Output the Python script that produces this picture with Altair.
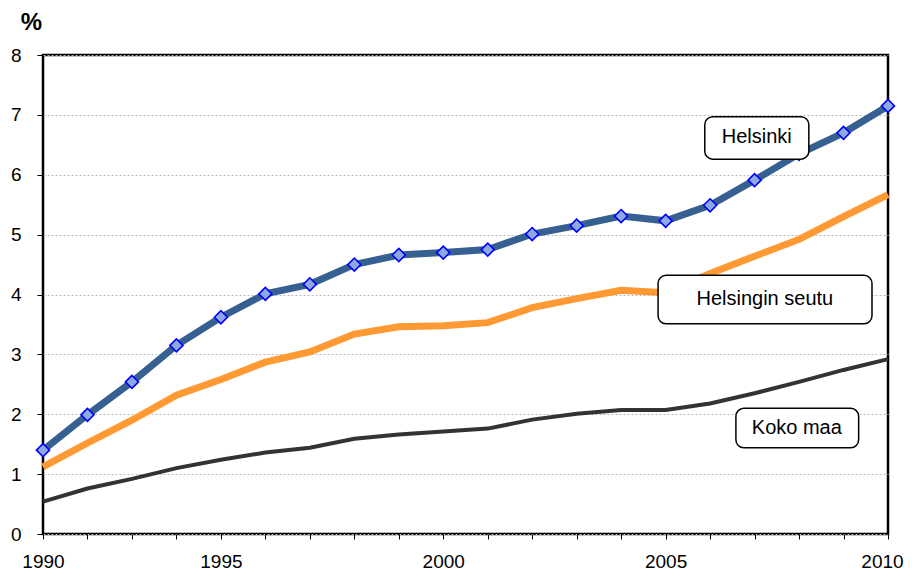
import altair as alt
import pandas as pd

# x positions (20 yearly points) and their axis labels
points = list(range(20))
tick_labels = {0: "1990", 4: "1995", 9: "2000", 14: "2005", 19: "2010"}

helsinki = [1.40, 1.99, 2.54, 3.15, 3.62, 4.01, 4.17, 4.50, 4.66, 4.70,
            4.75, 5.01, 5.15, 5.31, 5.23, 5.49, 5.91, 6.35, 6.70, 7.15]
seutu = [1.12, 1.52, 1.90, 2.32, 2.58, 2.87, 3.04, 3.34, 3.46, 3.48,
         3.53, 3.78, 3.93, 4.07, 4.03, 4.35, 4.64, 4.92, 5.30, 5.67]
koko = [0.54, 0.76, 0.92, 1.10, 1.24, 1.36, 1.44, 1.59, 1.66, 1.71,
        1.76, 1.91, 2.01, 2.07, 2.07, 2.18, 2.35, 2.54, 2.74, 2.92]

ann_text = ["Helsinki", "Helsingin seutu", "Koko maa"]
ann_x = [16.05, 16.23, 16.95]
ann_y = [6.63, 3.92, 1.77]
ann_x0 = [14.88, 13.83, 15.58]
ann_x1 = [17.22, 18.64, 18.34]
ann_y0 = [6.26, 3.51, 1.44]
ann_y1 = [6.97, 4.32, 2.10]

FONT = "Liberation Sans"

label_expr = " : ".join(
    f"datum.value == {k} ? '{v}'" for k, v in tick_labels.items()
) + " : ''"

xscale = alt.Scale(domain=[0, 19], nice=False, zero=False)
yscale = alt.Scale(domain=[0, 8], nice=False)

xaxis = alt.Axis(values=points, labelExpr=label_expr, grid=False, title=None,
                 tickSize=5, tickColor="black", labelFontSize=19, labelFont=FONT,
                 labelColor="black", labelPadding=13, domain=False,
                 labelOverlap=False, labelFlush=False,
                 labelOffset={"condition": {"test": "datum.value == 19", "value": -6},
                              "value": 0})
yaxis = alt.Axis(values=list(range(9)), format="d", grid=True, gridColor="#BBBBBB",
                 gridDash=[2, 2], gridWidth=1, tickSize=6, tickColor="black",
                 labelFontSize=19, labelFont=FONT, labelColor="black",
                 labelPadding=16, domain=False, title="%", titleAngle=0,
                 titleX=-12, titleY=-33, titleAlign="center",
                 titleBaseline="middle", titleFontSize=24, titleFont=FONT,
                 titleFontWeight="bold", titleColor="black")

df = pd.DataFrame({"i": points, "helsinki": helsinki, "seutu": seutu, "koko": koko})
ann = pd.DataFrame({"t": ann_text, "x": ann_x, "y": ann_y, "x0": ann_x0,
                    "x1": ann_x1, "y0": ann_y0, "y1": ann_y1})

base = alt.Chart(df)

koko_line = base.mark_line(color="#333333", strokeWidth=4).encode(
    x=alt.X("i:Q", scale=xscale, axis=xaxis),
    y=alt.Y("koko:Q", scale=yscale, axis=yaxis),
)
seutu_line = base.mark_line(color="#FF9933", strokeWidth=7).encode(
    x=alt.X("i:Q", scale=xscale), y=alt.Y("seutu:Q", scale=yscale))
hel_line = base.mark_line(color="#376092", strokeWidth=7).encode(
    x=alt.X("i:Q", scale=xscale), y=alt.Y("helsinki:Q", scale=yscale))
hel_pts = base.mark_point(shape="diamond", size=170, filled=True,
                          fill="#8EA9E0", stroke="#0000FF", strokeWidth=1.6,
                          opacity=1).encode(
    x=alt.X("i:Q", scale=xscale), y=alt.Y("helsinki:Q", scale=yscale))

boxes = alt.Chart(ann).mark_rect(fill="white", stroke="black", strokeWidth=1.5,
                                 cornerRadius=8).encode(
    x=alt.X("x0:Q", scale=xscale), x2="x1:Q",
    y=alt.Y("y0:Q", scale=yscale), y2="y1:Q")
texts = alt.Chart(ann).mark_text(fontSize=20, font=FONT, color="black",
                                 align="center", baseline="middle").encode(
    x=alt.X("x:Q", scale=xscale), y=alt.Y("y:Q", scale=yscale), text="t:N")

chart = alt.layer(koko_line, seutu_line, hel_line, hel_pts, boxes, texts).properties(
    width=845, height=479,
    autosize=alt.AutoSizeParams(type="none"),
    padding={"left": 35, "top": 47, "right": 16, "bottom": 39},
    background="white",
).configure_view(stroke="black", strokeWidth=2.5)

chart.save("out.html", embed_options={"renderer": "svg", "actions": False})
